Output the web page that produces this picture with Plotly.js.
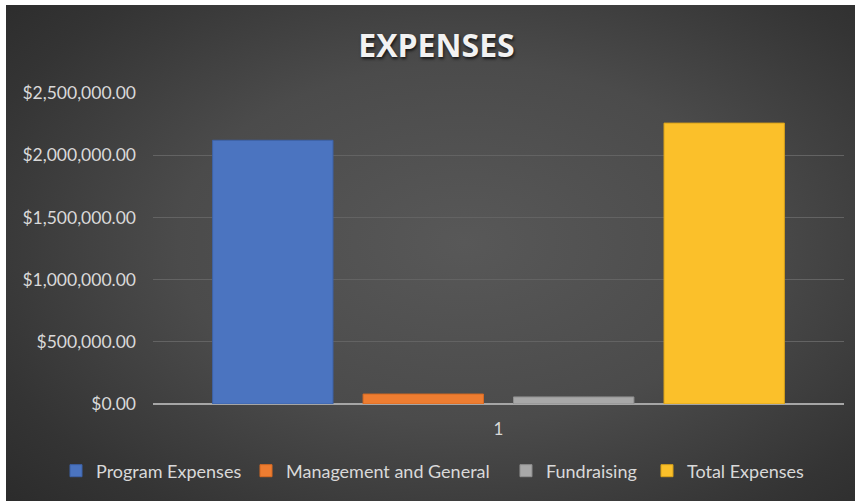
<!DOCTYPE html>
<html>
<head>
<meta charset="utf-8">
<script src="https://cdn.plot.ly/plotly-3.0.1.min.js"></script>
<style>
  html, body { margin: 0; padding: 0; background: #ffffff; width: 855px; height: 501px; overflow: hidden; }
  #chart {
    position: absolute; left: 6px; top: 5px; width: 849px; height: 496px;
    background: radial-gradient(ellipse 75% 80% at 54% 48%, #585858 0%, #4b4b4b 45%, #343434 80%, #2a2a2a 100%);
  }
</style>
</head>
<body>
<div id="chart"></div>
<script>
const categories = ["1"];
const seriesNames = ["Program Expenses", "Management and General", "Fundraising", "Total Expenses"];
const programExpenses = [2120000];
const managementGeneral = [80000];
const fundraising = [57000];
const totalExpenses = [2258000];
const yTickVals = [0, 500000, 1000000, 1500000, 2000000, 2500000];
const yTickText = ["$0.00", "$500,000.00", "$1,000,000.00", "$1,500,000.00", "$2,000,000.00", "$2,500,000.00"];

const seriesValues = [programExpenses, managementGeneral, fundraising, totalExpenses];
const colors = ["#4b74c0", "#ee7d31", "#a8a8a8", "#fbc02a"];
const lines = ["#3d62a8", "#d86a22", "#8f8f8f", "#d9a21a"];
const legendIds = ["legend", "legend2", "legend3", "legend4"];
const legendX = [0.0589, 0.2827, 0.5889, 0.7550];

const traces = seriesNames.map((n, i) => ({
  type: "bar",
  name: n,
  x: categories,
  y: seriesValues[i],
  legend: legendIds[i],
  marker: { color: colors[i], line: { color: lines[i], width: 1 } },
  hoverinfo: "skip"
}));

const fontFam = "Lato, 'Open Sans', sans-serif";

const layout = {
  width: 849, height: 496,
  paper_bgcolor: "rgba(0,0,0,0)",
  plot_bgcolor: "rgba(0,0,0,0)",
  margin: { l: 147, r: 11, t: 88, b: 97 },
  barmode: "group",
  bargap: 0.129,
  bargroupgap: 0.2,
  title: {
    text: "<b>EXPENSES</b>",
    x: 0.507, xref: "container", xanchor: "center",
    y: 0.917, yref: "container", yanchor: "middle",
    font: { family: "'Open Sans', sans-serif", size: 32, color: "#f2f2f2", shadow: "1px 2px 3px rgba(0,0,0,0.7)" }
  },
  xaxis: {
    type: "category",
    showgrid: false,
    showline: false,
    zeroline: false,
    ticks: "",
    ticklabelstandoff: 13,
    tickfont: { family: fontFam, size: 17, color: "#d9d9d9" }
  },
  yaxis: {
    range: [0, 2500000],
    tickvals: yTickVals,
    ticktext: yTickText,
    showgrid: true,
    gridcolor: "#636363",
    gridwidth: 1,
    zeroline: true,
    zerolinecolor: "#a6a6a6",
    zerolinewidth: 2,
    showline: false,
    ticks: "",
    ticklabelstandoff: 16,
    tickfont: { family: fontFam, size: 17.5, color: "#d9d9d9" }
  },
  showlegend: true
};

legendIds.forEach((id, i) => {
  layout[id] = {
    orientation: "h",
    xref: "container", yref: "container",
    x: legendX[i], xanchor: "left",
    y: 0.0605, yanchor: "middle",
    font: { family: fontFam, size: 18, color: "#d9d9d9" },
    itemwidth: 30,
    bgcolor: "rgba(0,0,0,0)"
  };
});

Plotly.newPlot("chart", traces, layout, { displayModeBar: false, staticPlot: true });
</script>
</body>
</html>
